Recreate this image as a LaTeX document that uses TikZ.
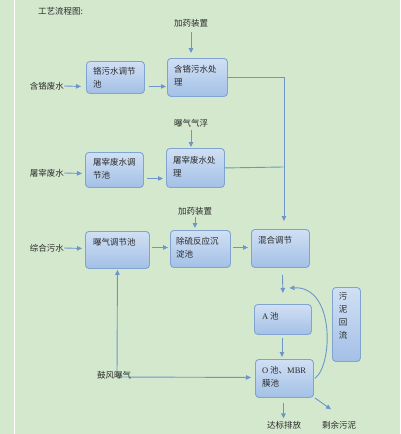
\documentclass[tikz,border=0pt]{standalone}
\usepackage{fontspec}
\setmainfont{Liberation Serif}
\newfontfamily\cjk{Noto Sans CJK SC}
\usetikzlibrary{arrows.meta}
\definecolor{bg}{HTML}{D3E8CD}
\definecolor{ln}{HTML}{6F96CC}
\definecolor{bd}{HTML}{80A3D0}
\definecolor{topc}{HTML}{D0E0F4}
\definecolor{botc}{HTML}{A3C0E6}
\definecolor{txt}{HTML}{2A2A2A}
\begin{document}
\begin{tikzpicture}[x=1pt,y=-1pt,
 box/.style={draw=bd, line width=0.9pt, rounded corners=3.5pt, top color=topc, bottom color=botc, inner sep=0pt, anchor=north west},
 lbl/.style={font=\cjk\fontsize{8.5}{13}\selectfont, text=txt, inner sep=0pt, align=left},
 flow/.style={draw=ln, line width=0.9pt, -{Triangle[length=5pt,width=4.5pt]}},
 pipe/.style={draw=ln, line width=0.9pt}]
\fill[bg] (0,0) rectangle (400,434);
\useasboundingbox (0,0) rectangle (400,434);
\draw[white, line width=1.3pt] (14.5,0) -- (14.5,434);

% boxes
\node[box, minimum width=58pt, minimum height=32pt] (b1) at (86,61) {};
\node[box, minimum width=60pt, minimum height=38pt] (b2) at (167,58) {};
\node[box, minimum width=58pt, minimum height=35pt] (b3) at (85,152) {};
\node[box, minimum width=58pt, minimum height=39pt] (b4) at (166,148) {};
\node[box, minimum width=64pt, minimum height=37pt] (b5) at (85,231) {};
\node[box, minimum width=60pt, minimum height=37pt] (b6) at (170,230) {};
\node[box, minimum width=58pt, minimum height=38pt] (b7) at (251,229) {};
\node[box, minimum width=57pt, minimum height=30pt] (b8) at (254,304) {};
\node[box, minimum width=58pt, minimum height=38pt] (b9) at (255,359) {};
\node[box, minimum width=28pt, minimum height=74pt] (b10) at (332,287) {};

% box texts
\node[lbl, anchor=west] (t1) at (93,78) {铬污水调节\\池};
\node[lbl, anchor=west] (t2) at (174,75.5) {含铬污水处\\理};
\node[lbl, anchor=west] (t3) at (93,169) {屠宰废水调\\节池};
\node[lbl, anchor=west] (t4) at (173,167) {屠宰废水处\\理};
\node[lbl, anchor=west] (t5) at (93,242) {曝气调节池};
\node[lbl, anchor=west] (t6) at (176,248) {除硫反应沉\\淀池};
\node[lbl, anchor=west] (t7) at (258,240) {混合调节};
\node[lbl, anchor=west] (t8) at (262,316) {{\rmfamily A} 池};
\node[lbl, anchor=west] (t9) at (262,376.5) {{\rmfamily O} 池、{\rmfamily MBR}\\膜池};
\node[lbl, align=center] (t10) at (343,316) {污\\泥\\回\\流};

% outside labels
\node[lbl, anchor=west] (title) at (38,11) {工艺流程图:};
\node[lbl] (l1) at (47,86) {含铬废水};
\node[lbl] (l2) at (47,173) {屠宰废水};
\node[lbl] (l3) at (47,248) {综合污水};
\node[lbl] (d1) at (191,23) {加药装置};
\node[lbl] (d2) at (191,123) {曝气气浮};
\node[lbl] (d3) at (195,211) {加药装置};
\node[lbl] (out1) at (284,425) {达标排放};
\node[lbl] (out2) at (339,425) {剩余污泥};
\coordinate (bf) at (117,377);
\coordinate (bus) at (283.5,167);

% row 1
\draw[flow] (l1.east) -- ([xshift=-5pt,yshift=-9pt]b1.west);
\draw[flow] ([xshift=4pt,yshift=-9pt]b1.east) -- ([xshift=-1pt,yshift=-9pt]b2.west);
\draw[flow, shorten <=5pt, shorten >=5pt] (d1.south) -- (d1.south |- b2.north);
\draw[flow] (b2.east) -| ([xshift=3.5pt,yshift=8pt]b7.north);
% row 2
\draw[flow] (l2.east) -- ([xshift=-3pt,yshift=-3.5pt]b3.west);
\draw[flow] ([xshift=3pt,yshift=-8.5pt]b3.east) -- ([xshift=-3pt,yshift=-10.5pt]b4.west);
\draw[flow, shorten <=2.5pt, shorten >=1pt] (d2.south) -- (d2.south |- b4.north);
\draw[pipe] (b4.east) -- (bus);
% row 3
\draw[flow] (l3.east) -- ([xshift=-3pt,yshift=1.5pt]b5.west);
\draw[flow] ([xshift=2pt,yshift=2.5pt]b5.east) -- ([xshift=-2pt,yshift=1.5pt]b6.west);
\draw[flow] ([xshift=2pt,yshift=1.5pt]b6.east) -- ([xshift=-3pt,yshift=1pt]b7.west);
\draw[flow, shorten <=1.5pt, shorten >=2pt] (d3.south) -- (d3.south |- b6.north);
% lower chain
\draw[flow] ([xshift=2pt,yshift=-7pt]b7.south) -- ([yshift=11pt]b8.north);
\draw[flow] ([xshift=-1pt,yshift=-3pt]b8.south) -- ([xshift=-2.5pt,yshift=2pt]b9.north);
\draw[flow, shorten >=2.5pt] ([xshift=-1pt,yshift=-5pt]b9.south) -- ([xshift=-1pt]b9.south |- out1.north);
\draw[flow] ([xshift=1pt]b9.south east) -- ([xshift=-8pt,yshift=11.5pt]out2.north);
\draw[flow] ([xshift=1pt]b9.east) .. controls (333,365) and (335,286) .. ([xshift=6.5pt,yshift=16pt]b8.north);
% blower
\draw[flow] (bf) -- ([yshift=-1pt]b5.south);
\draw[flow] (bf) -- ([xshift=-4pt,yshift=1pt]b9.west);
\node[lbl] (blow) at (114,375) {鼓风曝气};
\end{tikzpicture}
\end{document}
